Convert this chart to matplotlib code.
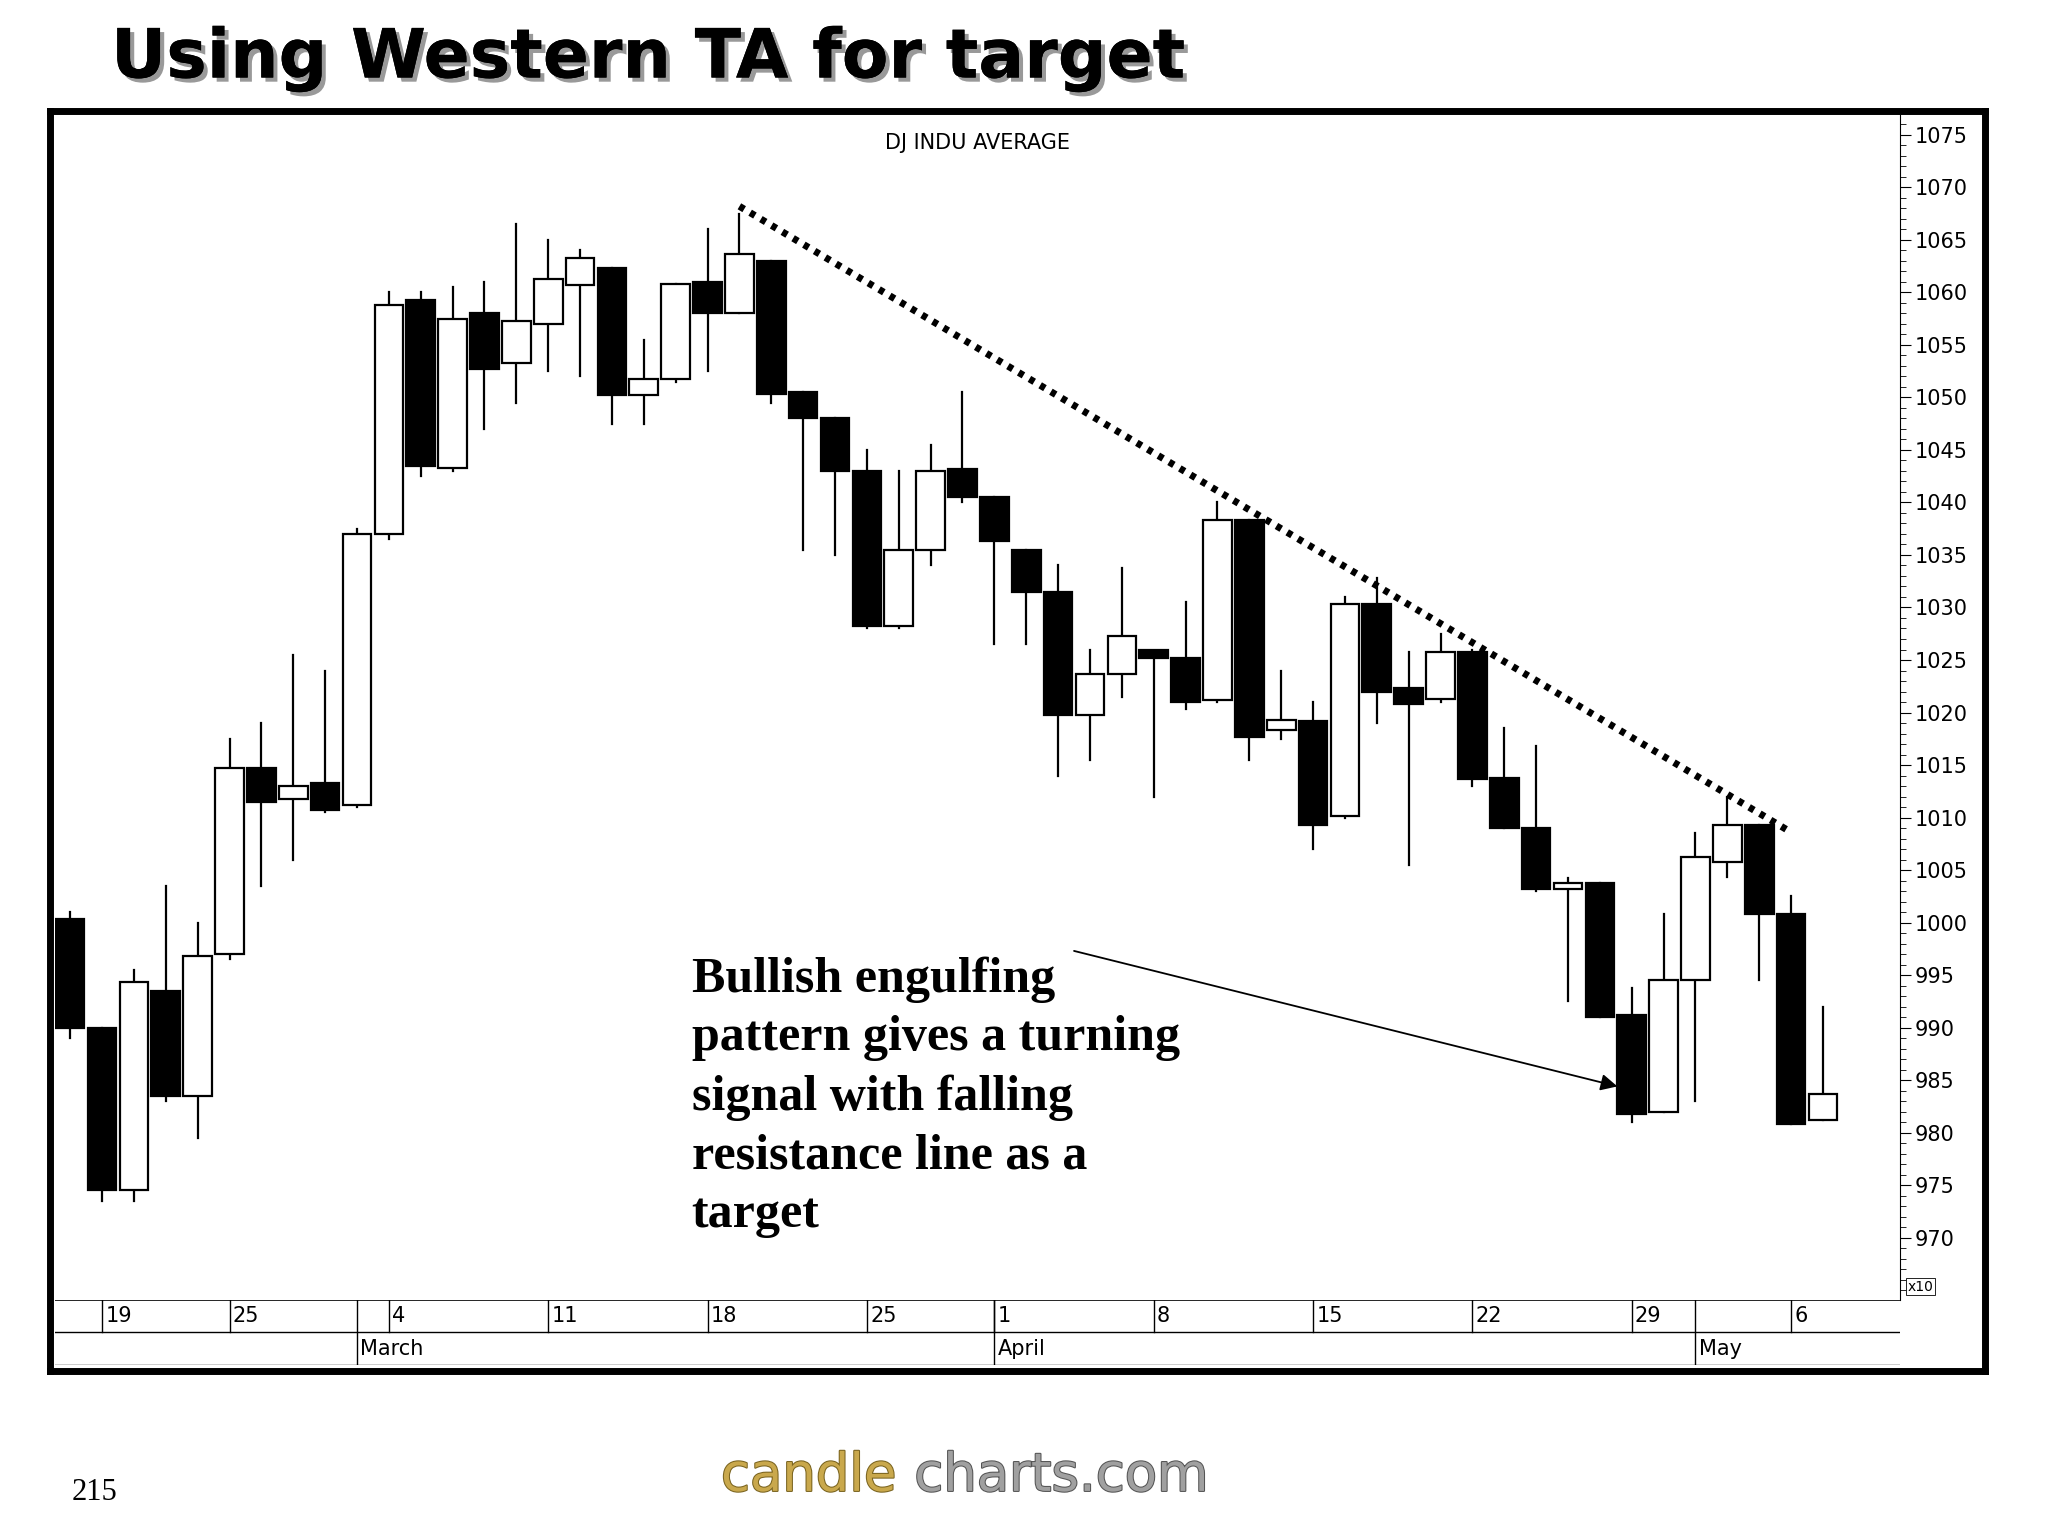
import matplotlib
matplotlib.use("Agg")
import matplotlib.pyplot as plt
from matplotlib.ticker import MultipleLocator
import matplotlib.patheffects as pe

opens  = [1000.3,990,974.5,993.5,983.5,997,1014.7,1011.8,1013.3,1011.2,1037,1059.3,1043.3,1058,1053.3,1057,1060.7,1062.3,1050.2,1051.8,1061,1058,1063,1050.5,1048,1043,1028.2,1035.5,1043.2,1040.5,1035.5,1031.5,1019.8,1023.7,1026,1025.2,1021.2,1038.3,1018.3,1019.2,1010.1,1030.3,1022.3,1021.3,1025.8,1013.8,1009,1003.2,1003.8,991.2,982,994.5,1005.8,1009.3,1000.8,981.2]
closes = [990,974.5,994.3,983.5,996.8,1014.7,1011.5,1013,1010.7,1037,1058.8,1043.5,1057.5,1052.7,1057.3,1061.3,1063.3,1050.2,1051.8,1060.8,1058,1063.7,1050.3,1048,1043,1028.2,1035.5,1043,1040.5,1036.3,1031.5,1019.8,1023.7,1027.3,1025.2,1021,1038.3,1017.7,1019.3,1009.3,1030.3,1022,1020.8,1025.8,1013.7,1009,1003.2,1003.8,991,981.8,994.5,1006.2,1009.3,1000.8,980.8,983.7]
highs  = [1001,990,995.5,1003.5,1000,1017.5,1019,1025.5,1024,1037.5,1060,1060,1060.5,1061,1066.5,1065,1064,1062.3,1055.5,1060.8,1066,1067.5,1063,1050.5,1048,1045,1043,1045.5,1050.5,1040.5,1035.5,1034,1026,1033.8,1025.8,1030.5,1040,1038.3,1024,1021,1031,1032.8,1025.8,1027.5,1026,1018.5,1016.8,1004.2,1003.8,993.8,1000.8,1008.5,1012,1009.3,1002.5,992]
lows   = [989,973.5,973.5,983,979.5,996.5,1003.5,1006,1010.5,1011,1036.5,1042.5,1043,1047,1049.5,1052.5,1052,1047.5,1047.5,1051.5,1052.5,1058,1049.5,1035.5,1035,1028,1028,1034,1040,1026.5,1026.5,1014,1015.5,1021.5,1012,1020.3,1021,1015.5,1017.5,1007,1010,1019,1005.5,1021,1013,1009,1003,992.5,991,981,982,983,1004.3,994.5,980.8,981.2]
trend_x = [22, 55]
trend_y = [1068.2, 1008.6]
day_labels = ["19","25","4","11","18","25","1","8","15","22","29","6"]
day_index  = [2,6,11,16,21,26,30,35,40,45,50,55]
month_labels = ["March","April","May"]
month_index  = [10,30,52]

W, H = 1568, 1176
fig = plt.figure(figsize=(20.48, 15.36), dpi=100)
def fr(x0, y0, x1, y1):
    return [x0/W, 1-y1/H, (x1-x0)/W, (y1-y0)/H]

frame = fig.add_axes(fr(38, 85, 1520, 1050))
frame.set_xticks([]); frame.set_yticks([])
for s in frame.spines.values():
    s.set_linewidth(5)
frame.patch.set_alpha(0)

ax = fig.add_axes(fr(42, 88, 1455, 995))
n = len(opens)
xs = list(range(1, n+1))
for i, o, c, h, l in zip(xs, opens, closes, highs, lows):
    ax.plot([i, i], [l, h], color="black", lw=1.6, zorder=1)
    bot, top = min(o, c), max(o, c)
    ht = max(top-bot, 0.5)
    ax.bar(i, ht, bottom=bot, width=0.9, color="black" if c < o else "white",
           edgecolor="black", linewidth=1.6, zorder=2)
ax.plot(trend_x, trend_y, color="black", lw=5, linestyle=(0, (0.8, 1.0)), zorder=3)
ax.set_xlim(0.52, 58.43)
ax.set_ylim(964.1, 1076.9)
ax.set_xticks([])
ax.yaxis.tick_right()
ax.yaxis.set_minor_locator(MultipleLocator(1))
ax.set_yticks(range(970, 1076, 5))
ax.tick_params(axis="y", which="major", direction="out", length=8, labelsize=15, pad=2)
ax.tick_params(axis="y", which="minor", direction="out", length=4)
for s in ["top", "left", "bottom"]:
    ax.spines[s].set_visible(False)
ax.spines["right"].set_linewidth(0.8)
ax.text(0.5, 0.985, "DJ INDU AVERAGE", transform=ax.transAxes, ha="center", va="top", fontsize=15)
ax.text(1.004, 0.005, "x10", transform=ax.transAxes, ha="left", va="bottom", fontsize=10,
        bbox=dict(boxstyle="square,pad=0.1", fc="white", ec="black", lw=0.6))

txt = "Bullish engulfing\npattern gives a turning\nsignal with falling\nresistance line as a\ntarget"
ax.text(20.5, 996.8, txt, ha="left", va="top", fontsize=36, fontweight="bold",
        family="Liberation Serif", linespacing=1.36, zorder=5)
ax.annotate("", xy=(49.55, 984.4), xytext=(32.5, 997.3), zorder=6,
            arrowprops=dict(arrowstyle="-|>", color="black", lw=1.3, mutation_scale=25, shrinkA=0, shrinkB=0))

dax = fig.add_axes(fr(42, 995, 1455, 1045))
dax.set_xlim(0.52, 58.43); dax.set_ylim(0, 2)
dax.set_xticks([]); dax.set_yticks([])
for s in dax.spines.values():
    s.set_visible(False)
dax.axhline(2, color="black", lw=1.2)
dax.axhline(1, color="black", lw=1.0)
dax.axhline(0, color="black", lw=1.0)
for lab, i in zip(day_labels, day_index):
    dax.plot([i, i], [1, 2], color="black", lw=1)
    dax.text(i+0.1, 1.5, lab, ha="left", va="center", fontsize=15)
for lab, i in zip(month_labels, month_index):
    dax.plot([i, i], [0, 2], color="black", lw=1)
    dax.text(i+0.1, 0.5, lab, ha="left", va="center", fontsize=15)

fig.text(85/W, 1-45/H, "Using Western TA for target", fontsize=49, fontweight="bold",
         va="center", ha="left", family="DejaVu Sans",
         path_effects=[pe.withSimplePatchShadow(offset=(3, -3), shadow_rgbFace="#999999", alpha=1), pe.Normal()])
fig.text(55/W, 1-1143/H, "215", fontsize=22, family="Liberation Serif", va="center")
fig.text(552/W, 1-1130/H, "candle", fontsize=38, color="#C9A84C", va="center", ha="left",
         path_effects=[pe.withStroke(linewidth=1.5, foreground="#7a6420")])
fig.text(700/W, 1-1130/H, "charts.com", fontsize=38, color="#A0A0A0", va="center", ha="left",
         path_effects=[pe.withStroke(linewidth=1.5, foreground="#555555")])

fig.savefig("out.png", dpi=100, facecolor="white")
